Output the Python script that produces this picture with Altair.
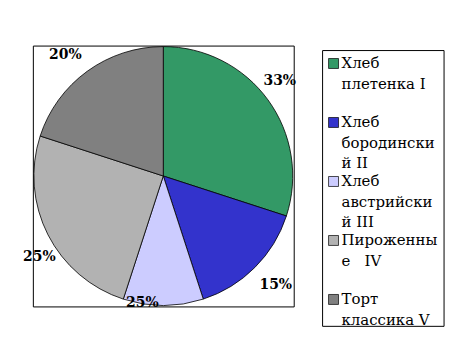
import math
import altair as alt
import pandas as pd

# ---- data ----
categories = ["Хлеб плетенка I", "Хлеб бородинский II", "Хлеб австрийский III",
              "Пироженные IV", "Торт классика V"]
legend_text = ["Хлеб\nплетенка I", "Хлеб\nбородински\nй II", "Хлеб\nавстрийски\nй III",
               "Пироженны\nе\u00a0\u00a0\u00a0IV", "Торт\nклассика V"]
shares = [30, 15, 10, 25, 20]          # slice sizes as drawn
pct_labels = ["33%", "15%", "25%", "25%", "20%"]  # label texts as printed
colors = ["#339966", "#3333CC", "#CCCCFF", "#B2B2B2", "#808080"]

df = pd.DataFrame({
    "idx": list(range(len(categories))),
    "cat": categories,
    "share": shares,
    "label": pct_labels,
    "legend": legend_text,
})
df["mid"] = df["share"].cumsum() - df["share"] / 2
total = float(df["share"].sum())

FONT = "DejaVu Serif"
# label nudges (style)
nudges = [(-6, -6), (5.5, 2.5), (-21, -24), (11, 12), (-9, 1)]

base = alt.Chart(df)
color = alt.Color("cat:N", scale=alt.Scale(domain=categories, range=colors), legend=None)

arcs = base.mark_arc(radius=130, stroke="black", strokeWidth=0.8).encode(
    theta=alt.Theta("share:Q", stack=True),
    color=color,
    order=alt.Order("idx:Q"),
)

layers = [arcs]
for i, (dx, dy) in enumerate(nudges):
    layers.append(
        base.transform_filter(alt.datum.idx == i)
        .mark_text(radius=152, dx=dx, dy=dy, font=FONT, fontSize=14,
                   fontWeight="bold", color="black", baseline="middle", align="center")
        .encode(
            theta=alt.Theta("mid:Q", stack=False,
                            scale=alt.Scale(domain=[0, total], range=[0, 2 * math.pi])),
            text="label:N",
        )
    )

pie = alt.layer(*layers).resolve_scale(theta="independent").properties(
    width=262, height=262,
    view=alt.ViewBackground(stroke="black", strokeWidth=1),
)

leg_y = alt.Y("idx:Q", scale=alt.Scale(domain=[0, 4], range=[18, 255]), axis=None)

box = base.transform_filter(alt.datum.idx == 0).mark_rect(
    fill="white", stroke="black", strokeWidth=1
).encode(x=alt.value(0), x2=alt.value(122), y=alt.value(5), y2=alt.value(282))

squares = base.mark_square(size=100, stroke="black", strokeWidth=0.7, opacity=1).encode(
    x=alt.value(11), y=leg_y, color=color
)

texts = base.mark_text(
    align="left", baseline="alphabetic", dy=5, lineBreak="\n", lineHeight=20.5,
    font=FONT, fontSize=15, fontWeight="normal", color="black"
).encode(x=alt.value(19), y=leg_y, text="legend:N")

legend = alt.layer(box, squares, texts).properties(
    width=122, height=282,
    view=alt.ViewBackground(stroke="transparent"),
)

chart = alt.hconcat(pie, legend, spacing=29, bounds="flush").properties(
    padding={"left": 22, "top": 43, "right": 12, "bottom": 23},
    background="white",
)

chart.save("out.html", embed_options={"renderer": "svg", "actions": False})
